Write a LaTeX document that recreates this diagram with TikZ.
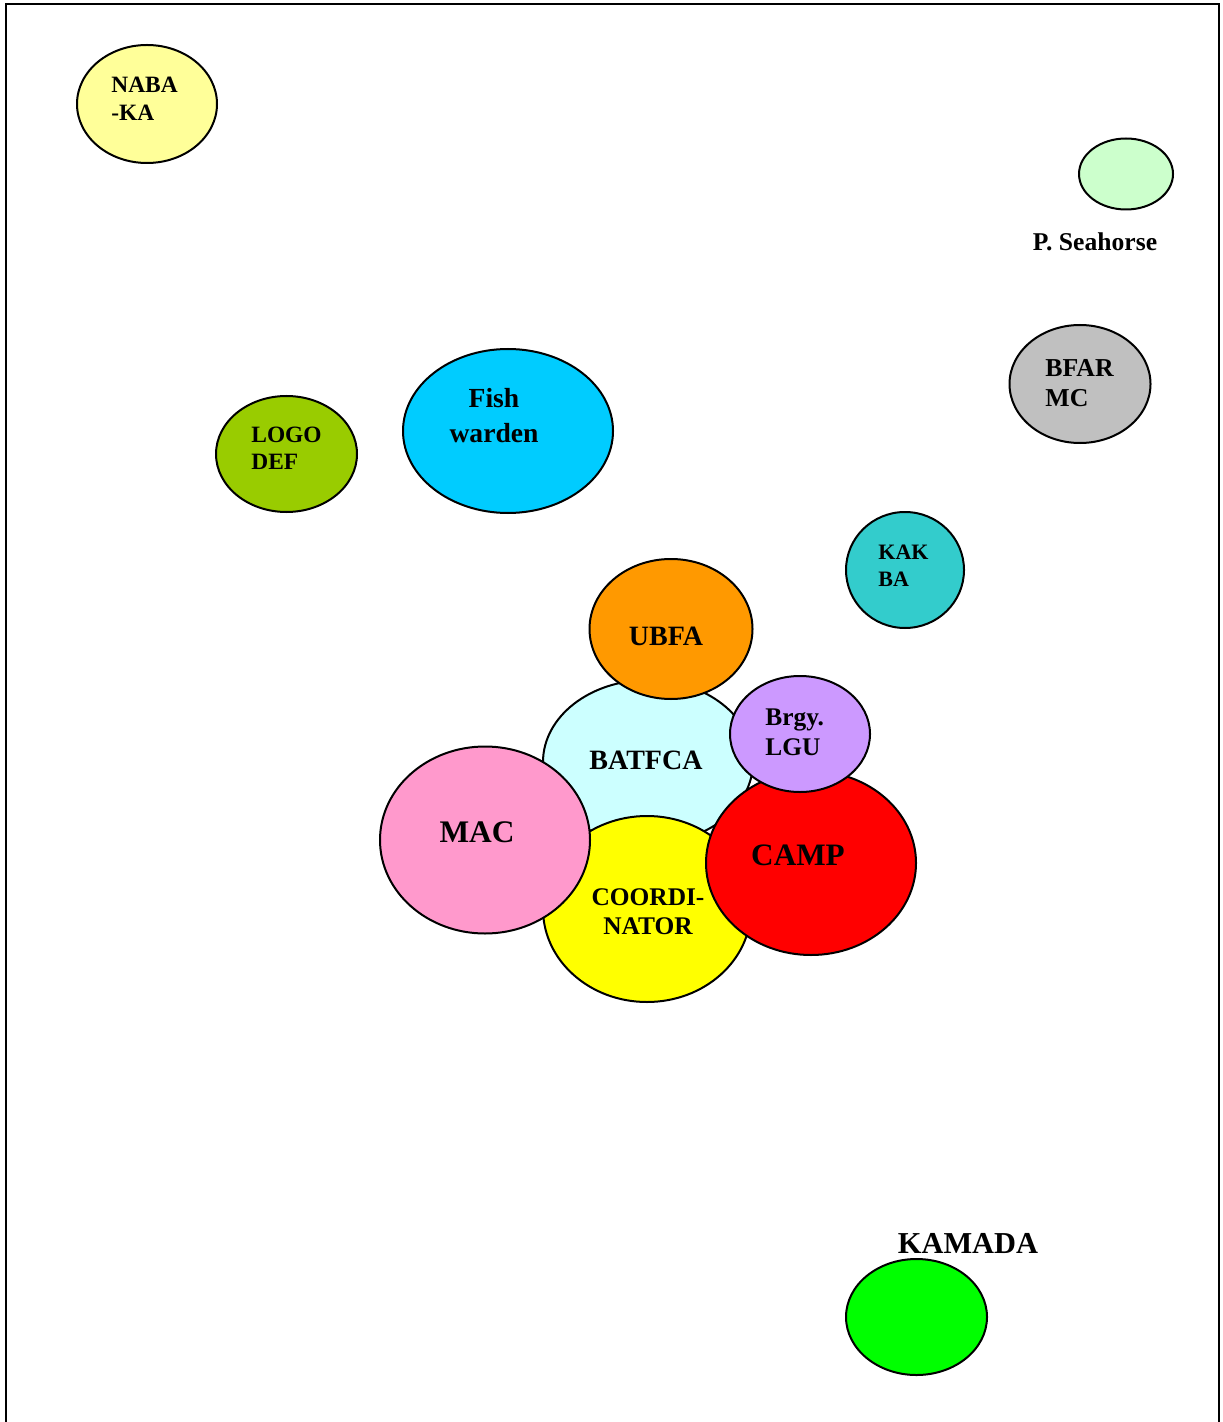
\documentclass[tikz,border=0pt]{standalone}
\usepackage{fontspec}
\setmainfont{Liberation Serif}
\usetikzlibrary{shapes.geometric}
\definecolor{nabayellow}{RGB}{255,255,153}
\definecolor{seagreen}{RGB}{204,255,204}
\definecolor{bfargray}{RGB}{192,192,192}
\definecolor{fishblue}{RGB}{0,204,255}
\definecolor{logogreen}{RGB}{153,204,0}
\definecolor{kakteal}{RGB}{51,204,204}
\definecolor{ubfaorange}{RGB}{255,153,0}
\definecolor{batfcacyan}{RGB}{204,255,255}
\definecolor{brgyviolet}{RGB}{204,153,255}
\definecolor{macpink}{RGB}{255,153,204}
\definecolor{coordyellow}{RGB}{255,255,0}
\definecolor{campred}{RGB}{255,0,0}
\definecolor{kamadagreen}{RGB}{0,255,0}
\tikzstyle{blob}=[ellipse,draw,line width=1pt,inner sep=0pt]
\tikzstyle{lbl}=[inner sep=0pt,align=left,anchor=west]
\tikzstyle{clbl}=[inner sep=0pt,align=center]
\newcommand{\fs}[2]{\fontsize{#1}{#2}\selectfont\bfseries}

\begin{document}
\begin{tikzpicture}[x=0.5pt,y=-0.5pt]
  \useasboundingbox (0,0) rectangle (1222,1422);
  \draw[line width=1pt] (6,1422) -- (6,4) -- (1219,4) -- (1219,1422);

  % groups around the edge
  \node (nabaka) [blob,fill=nabayellow,minimum width=70pt,minimum height=59pt] at (147,104) {};
  \node (seahorse) [blob,fill=seagreen,minimum width=47pt,minimum height=35.5pt] at (1126,174) {};
  \node (bfar) [blob,fill=bfargray,minimum width=70.5pt,minimum height=59pt] at (1080,384) {};
  \node (fish) [blob,fill=fishblue,minimum width=105pt,minimum height=82pt] at (508,431) {};
  \node (logodef) [blob,fill=logogreen,minimum width=70.5pt,minimum height=58pt] at (286.5,454) {};
  \node (kakba) [blob,fill=kakteal,minimum width=59pt,minimum height=58pt] at (905,570) {};
  \node (kamada) [blob,fill=kamadagreen,minimum width=70.5pt,minimum height=58pt] at (916.5,1317) {};

  % central cluster
  \node (batfca) [blob,fill=batfcacyan,minimum width=105pt,minimum height=82pt] at (648,762) {};
  \node (ubfa) [blob,fill=ubfaorange,minimum width=81.5pt,minimum height=70pt] at (671,629) {};
  \node (coord) [blob,fill=coordyellow,minimum width=104pt,minimum height=93pt] at (647,909) {};
  \node (mac) [blob,fill=macpink,minimum width=105pt,minimum height=93.5pt] at (485,840) {};
  \node (camp) [blob,fill=campred,minimum width=105pt,minimum height=92pt] at (811,863) {};
  \node (brgy) [blob,fill=brgyviolet,minimum width=70pt,minimum height=58pt] at (800,734) {};

  % labels
  \node (nabakatxt) [lbl,font=\fs{11.7}{14}] at (111,99) {NABA\\-KA};
  \node (seahorsetxt) [clbl,font=\fs{12.8}{14}] at (1095,242) {P. Seahorse};
  \node (bfartxt) [lbl,font=\fs{12.9}{15}] at (1045,383) {BFAR\\MC};
  \node (fishtxt) [clbl,font=\fs{13.8}{17.5}] at (494,415.5) {Fish\\warden};
  \node (logodeftxt) [lbl,font=\fs{11.7}{13.5}] at (251,448.5) {LOGO\\DEF};
  \node (kakbatxt) [lbl,font=\fs{11}{13.5}] at (878,565.5) {KAK\\BA};
  \node (ubfatxt) [clbl,font=\fs{14}{17}] at (666,636) {UBFA};
  \node (batfcatxt) [clbl,font=\fs{14}{17}] at (646,760) {BATFCA};
  \node (brgytxt) [lbl,font=\fs{12.7}{15}] at (765,732) {Brgy.\\LGU};
  \node (mactxt) [clbl,font=\fs{15.7}{18}] at (477,832) {MAC};
  \node (coordtxt) [clbl,font=\fs{12.7}{14.5}] at (648,911.5) {COORDI-\\NATOR};
  \node (camptxt) [clbl,font=\fs{15.6}{18}] at (798,855) {CAMP};
  \node (kamadatxt) [clbl,font=\fs{15.2}{18}] at (968,1243) {KAMADA};
\end{tikzpicture}
\end{document}
